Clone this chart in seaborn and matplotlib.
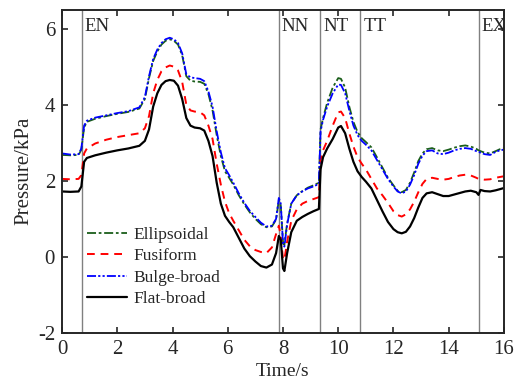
import numpy as np
import pandas as pd
import matplotlib
matplotlib.use("Agg")
import matplotlib.pyplot as plt
import seaborn as sns

# time axis shared by all four shapes (s)
time_s = [0, 0.3, 0.6, 0.7, 0.8, 0.9, 1.2, 1.6, 2.0, 2.4, 2.8, 3.0, 3.15, 3.3, 3.45,
          3.6, 3.75, 3.9, 4.05, 4.2, 4.35, 4.5, 4.65, 4.8, 5.0, 5.15, 5.3, 5.45, 5.6,
          5.75, 5.9, 6.05, 6.2, 6.4, 6.6, 6.8, 7.0, 7.2, 7.4, 7.6, 7.75, 7.85, 7.92,
          8.0, 8.05, 8.15, 8.3, 8.5, 8.7, 8.9, 9.1, 9.3, 9.36, 9.45, 9.6, 9.8, 10.0,
          10.1, 10.25, 10.4, 10.55, 10.7, 10.85, 11.0, 11.2, 11.4, 11.6, 11.8, 12.0,
          12.15, 12.3, 12.45, 12.6, 12.75, 12.9, 13.05, 13.2, 13.4, 13.6, 13.8, 14.0,
          14.2, 14.4, 14.6, 14.8, 15.0, 15.08, 15.15, 15.3, 15.5, 15.7, 15.85, 16.0]

ellipsoidal = [2.68, 2.67, 2.68, 2.82, 3.40, 3.55, 3.63, 3.70, 3.76, 3.81, 3.90, 4.15, 4.70,
               5.15, 5.40, 5.58, 5.68, 5.72, 5.68, 5.58, 5.30, 4.75, 4.63, 4.61, 4.60,
               4.55, 4.28, 3.85, 3.20, 2.65, 2.25, 2.08, 1.90, 1.62, 1.38, 1.17, 1.00,
               0.86, 0.78, 0.80, 0.98, 1.50, 1.35, 0.40, 0.32, 0.88, 1.40, 1.62, 1.73,
               1.82, 1.88, 1.95, 3.35, 3.65, 4.05, 4.45, 4.70, 4.68, 4.45, 3.95, 3.55,
               3.28, 3.12, 3.02, 2.88, 2.62, 2.35, 2.08, 1.88, 1.74, 1.70, 1.76, 1.95,
               2.22, 2.52, 2.72, 2.83, 2.86, 2.80, 2.78, 2.82, 2.87, 2.91, 2.93, 2.90,
               2.84, 2.80, 2.78, 2.74, 2.72, 2.78, 2.83, 2.85]

fusiform = [2.05, 2.04, 2.05, 2.15, 2.72, 2.85, 2.98, 3.08, 3.15, 3.20, 3.25, 3.38, 3.70,
            4.30, 4.65, 4.88, 4.98, 5.03, 5.00, 4.90, 4.60, 4.00, 3.85, 3.82, 3.80,
            3.72, 3.45, 3.10, 2.45, 1.90, 1.45, 1.15, 0.95, 0.70, 0.45, 0.28, 0.18,
            0.13, 0.10, 0.25, 0.60, 0.82, 0.55, -0.05, -0.08, 0.40, 0.95, 1.25, 1.40,
            1.47, 1.52, 1.57, 2.55, 2.80, 3.05, 3.45, 3.80, 3.82, 3.65, 3.25, 2.90,
            2.62, 2.45, 2.30, 2.05, 1.80, 1.62, 1.42, 1.20, 1.10, 1.06, 1.12, 1.25,
            1.45, 1.70, 1.92, 2.05, 2.08, 2.05, 2.03, 2.05, 2.10, 2.14, 2.16, 2.14,
            2.08, 2.05, 2.05, 2.03, 2.04, 2.08, 2.10, 2.12]

bulge_broad = [2.72, 2.69, 2.70, 2.85, 3.45, 3.58, 3.66, 3.72, 3.78, 3.83, 3.93, 4.20, 4.75,
               5.20, 5.45, 5.62, 5.72, 5.76, 5.72, 5.62, 5.35, 4.80, 4.72, 4.70, 4.68,
               4.62, 4.35, 3.95, 3.30, 2.75, 2.33, 2.15, 1.95, 1.67, 1.42, 1.21, 1.05,
               0.90, 0.80, 0.82, 1.00, 1.55, 1.40, 0.35, 0.27, 0.85, 1.40, 1.62, 1.72,
               1.80, 1.85, 1.92, 3.30, 3.60, 3.95, 4.30, 4.53, 4.52, 4.30, 3.85, 3.45,
               3.20, 3.05, 2.95, 2.80, 2.55, 2.30, 2.05, 1.85, 1.72, 1.67, 1.72, 1.90,
               2.15, 2.45, 2.66, 2.78, 2.80, 2.72, 2.70, 2.74, 2.80, 2.84, 2.86, 2.84,
               2.78, 2.76, 2.74, 2.70, 2.68, 2.76, 2.80, 2.82]

flat_broad = [1.72, 1.71, 1.72, 1.85, 2.50, 2.60, 2.67, 2.74, 2.80, 2.85, 2.92, 3.05, 3.35,
              3.95, 4.30, 4.52, 4.62, 4.65, 4.63, 4.50, 4.15, 3.65, 3.45, 3.40, 3.38,
              3.32, 3.05, 2.65, 1.95, 1.40, 1.08, 0.92, 0.78, 0.50, 0.22, 0.02, -0.12,
              -0.24, -0.28, -0.20, 0.10, 0.55, 0.45, -0.30, -0.37, 0.10, 0.65, 0.95, 1.05,
              1.13, 1.20, 1.26, 2.30, 2.62, 2.85, 3.10, 3.40, 3.44, 3.25, 2.85, 2.50,
              2.25, 2.10, 1.98, 1.80, 1.50, 1.20, 0.92, 0.73, 0.65, 0.62, 0.66, 0.80,
              1.02, 1.30, 1.55, 1.67, 1.70, 1.65, 1.60, 1.60, 1.64, 1.68, 1.72, 1.74,
              1.70, 1.63, 1.76, 1.73, 1.72, 1.75, 1.78, 1.81]

# stage boundaries and names
stage_lines = [0.71, 7.84, 9.35, 10.8, 15.08]
stage_names = ["EN", "NN", "NT", "TT", "EX"]

sns.set_style("ticks")
plt.rcParams['font.family'] = ['Liberation Serif', 'DejaVu Serif']
plt.rcParams['axes.unicode_minus'] = False
plt.rcParams['xtick.direction'] = 'in'
plt.rcParams['ytick.direction'] = 'in'

fig = plt.figure(figsize=(5.19, 3.83), dpi=100)
ax = fig.add_axes([0.1195, 0.1305, 0.8515, 0.8445])

df = pd.DataFrame({'t': time_s, 'Ellipsoidal': ellipsoidal, 'Fusiform': fusiform,
                   'Bulge-broad': bulge_broad, 'Flat-broad': flat_broad})

styles = {
    'Ellipsoidal': dict(color='#1a5e1a', lw=1.3, dashes=(5, 1.5, 1.5, 1.5)),
    'Fusiform': dict(color='#ff0000', lw=1.4, dashes=(4, 3)),
    'Bulge-broad': dict(color='#0000ff', lw=1.3, dashes=(5, 1.2, 1.2, 1.2, 1.2, 1.2)),
    'Flat-broad': dict(color='black', lw=1.6, dashes=None),
}

for name, st in styles.items():
    sns.lineplot(data=df, x='t', y=name, ax=ax, color=st['color'],
                 linewidth=st['lw'], label=name)
    if st['dashes'] is not None:
        ax.lines[-1].set_dashes(st['dashes'])

for x, name in zip(stage_lines, stage_names):
    ax.axvline(x, color='#808080', lw=1.0, zorder=0)
    ax.text(x + 0.12, 6.05, name, fontsize=13.5, va='center', ha='left', clip_on=True)

ax.set_xlim(0, 16)
ax.set_ylim(-2, 6.5)
ax.set_xticks([0, 2, 4, 6, 8, 10, 12, 14, 16])
ax.set_yticks([-2, 0, 2, 4, 6])
ax.tick_params(axis='both', labelsize=15, length=4, width=1.2, top=True, right=True)
ax.tick_params(axis='x', pad=5)
ax.tick_params(axis='y', pad=5)
for sp in ax.spines.values():
    sp.set_linewidth(1.4)
    sp.set_visible(True)

ax.set_xlabel('Time/s', fontsize=14, labelpad=3)
ax.set_ylabel('Pressure/kPa', fontsize=15, labelpad=3)

ax.legend(loc='upper left', bbox_to_anchor=(0.04, 0.35), frameon=False, fontsize=12.5,
          handlelength=2.3, handletextpad=0.4, labelspacing=0.3, borderaxespad=0)

fig.savefig('out.png', dpi=100)
